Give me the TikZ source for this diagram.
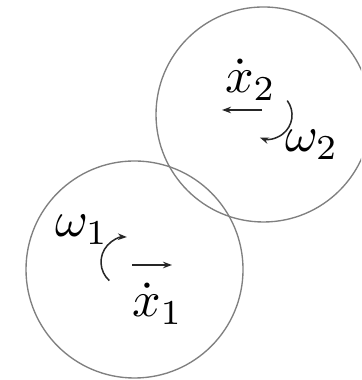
\documentclass[tikz,border=0pt]{standalone}
\usetikzlibrary{arrows.meta}
\begin{document}
\begin{tikzpicture}[x=0.2pt,y=0.2pt,
  disc/.style={draw=black!50,line width=0.27pt,circle,inner sep=0pt,minimum size=#1},
  lbl/.style={inner sep=0pt,anchor=base west,font=\fontsize{10.2}{12}\selectfont},
  mot/.style={draw=black!85,line width=0.3pt,-{Stealth[length=1.8pt,width=1.3pt]}}]
\useasboundingbox (0,0) rectangle (361,380);
\fill[white] (0,0) rectangle (361,380);
\clip (0,0) rectangle (361,380);
% bodies
\node[disc=43.4pt] (b1) at (134.5,110.5) {};
\node[disc=43pt] (b2) at (263.5,265.5) {};
% labels
\node[lbl] (xd2) at (224,287) {$\dot{x}_2$};
\node[lbl] (w2) at (284,228) {$\omega_2$};
\node[lbl] (w1) at (54,143) {$\omega_1$};
\node[lbl] (xd1) at (131,63) {$\dot{x}_1$};
% motion arrows
\coordinate (a2s) at (262,270);
\coordinate (a2e) at (222,270);
\draw[mot] (a2s) -- (a2e);
\coordinate (a1s) at (132,115);
\coordinate (a1e) at (172,115);
\draw[mot] (a1s) -- (a1e);
% rotation arrows
\coordinate (r2s) at (287.2,279.4);
\draw[mot] (r2s) arc[start angle=37,end angle=-110,radius=24];
\coordinate (r1s) at (109.3,99.4);
\draw[mot] (r1s) arc[start angle=228,end angle=88,radius=25];
\end{tikzpicture}
\end{document}
